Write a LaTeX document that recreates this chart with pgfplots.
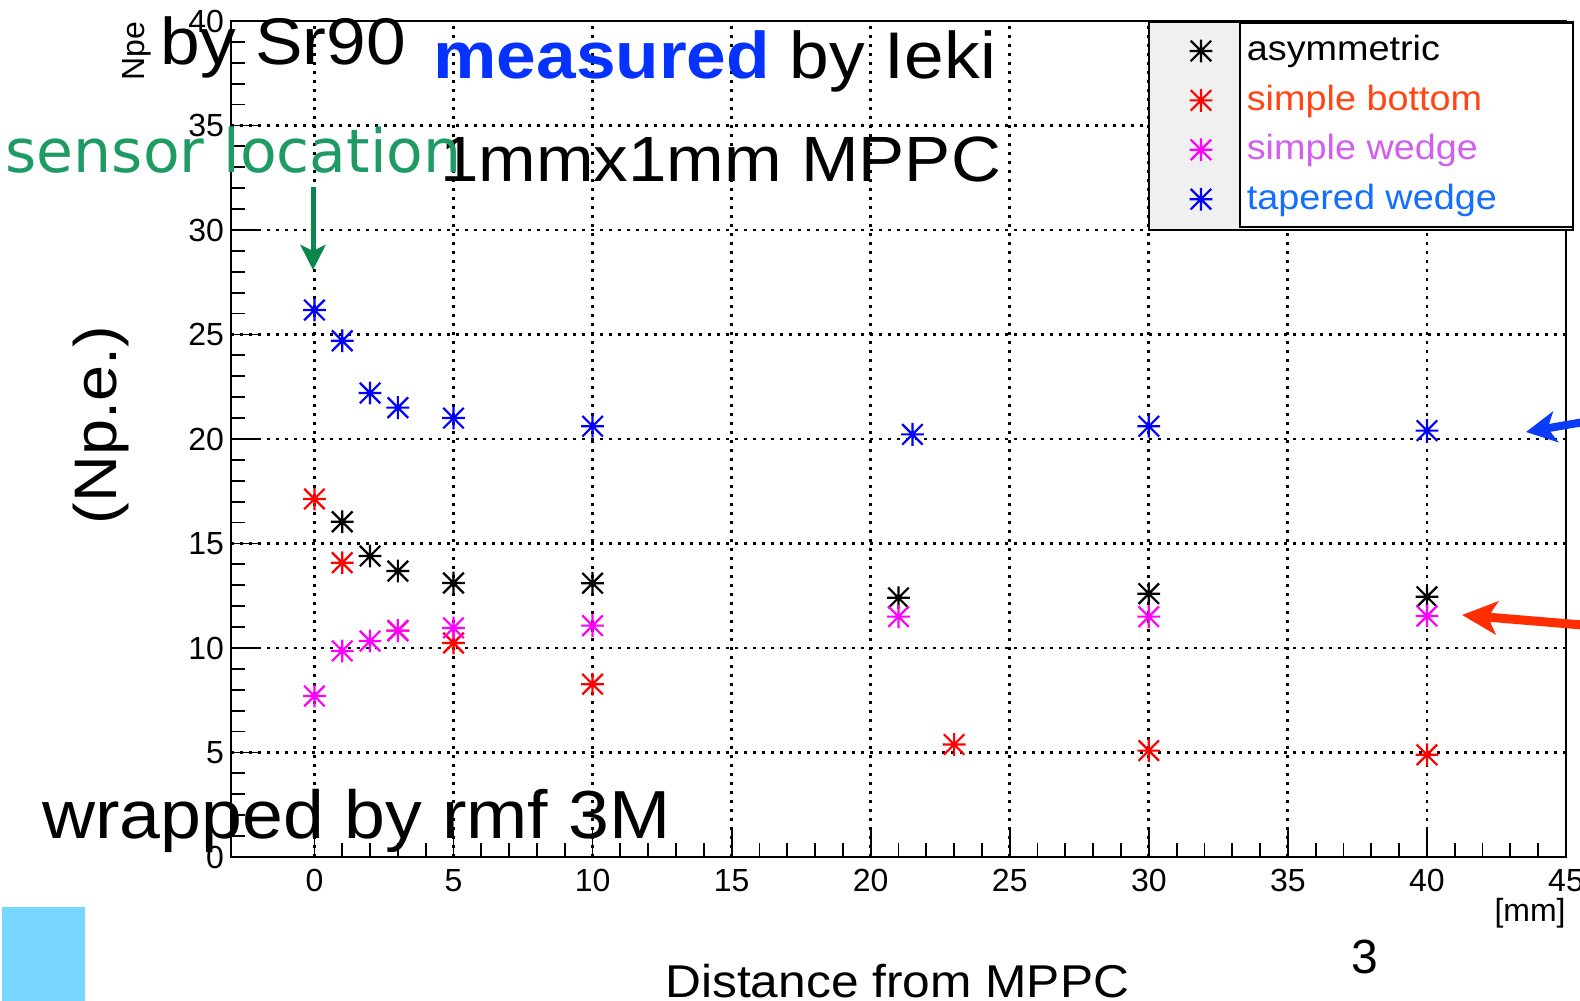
\documentclass[border=0pt]{standalone}
\usepackage{pgfplots}
\pgfplotsset{compat=1.18}
\usepackage{fontspec}
\usetikzlibrary{arrows.meta}
\setmainfont{Liberation Sans}
\newfontfamily\hira[FakeStretch=1.08]{Liberation Sans}
\newfontfamily\verd{DejaVu Sans}

\definecolor{sensgreen}{RGB}{30,155,100}
\definecolor{arrgreen}{RGB}{10,135,75}
\definecolor{measblue}{RGB}{5,50,255}
\definecolor{arrblue}{RGB}{10,60,245}
\definecolor{arrred}{RGB}{255,45,0}
\definecolor{legred}{RGB}{255,70,20}
\definecolor{legviolet}{RGB}{210,95,240}
\definecolor{legblue}{RGB}{20,110,255}
\definecolor{sqblue}{RGB}{120,214,255}
\definecolor{leggray}{RGB}{240,240,240}
\definecolor{mkred}{RGB}{255,0,0}
\definecolor{mkmag}{RGB}{255,0,255}
\definecolor{mkblue}{RGB}{0,0,255}

% ROOT style star: + and x together
\pgfdeclareplotmark{rootstar}{%
  \pgfpathmoveto{\pgfqpoint{-\pgfplotmarksize}{0pt}}\pgfpathlineto{\pgfqpoint{\pgfplotmarksize}{0pt}}%
  \pgfpathmoveto{\pgfqpoint{0pt}{-\pgfplotmarksize}}\pgfpathlineto{\pgfqpoint{0pt}{\pgfplotmarksize}}%
  \pgfpathmoveto{\pgfqpoint{-.9\pgfplotmarksize}{-.9\pgfplotmarksize}}\pgfpathlineto{\pgfqpoint{.9\pgfplotmarksize}{.9\pgfplotmarksize}}%
  \pgfpathmoveto{\pgfqpoint{-.9\pgfplotmarksize}{.9\pgfplotmarksize}}\pgfpathlineto{\pgfqpoint{.9\pgfplotmarksize}{-.9\pgfplotmarksize}}%
  \pgfusepathqstroke}

% legend key: a single mark
\pgfplotsset{legend image code/.code={\draw[#1] plot coordinates {(0pt,0.7pt)};}}

\begin{document}
\begin{tikzpicture}
\path[use as bounding box] (0,0) rectangle (790pt,500.5pt);
\clip (0,0) rectangle (790pt,500.5pt);

\begin{axis}[
    at={(115.5pt,72pt)}, anchor=south west,
    scale only axis, width=667.5pt, height=418pt,
    xmin=-3, xmax=45, ymin=0, ymax=40,
    xtick={0,5,...,45}, ytick={0,5,...,40},
    minor x tick num=4, minor y tick num=4,
    tick align=inside, xtick pos=bottom, ytick pos=left,
    major tick length=15pt, minor tick length=7pt,
    every tick/.style={black, line width=0.9pt},
    axis line style={line width=1.3pt},
    grid=major,
    major grid style={black, line width=1.4pt, dash pattern=on 1.4pt off 3.1pt},
    tick label style={font=\fontsize{16}{16}\selectfont},
    xticklabel style={yshift=-2.5pt},
    /pgf/number format/assume math mode=true,
    clip=false,
    legend cell align=left,
    legend style={at={(0.718,0.9822)}, anchor=north west, draw=none, fill=none,
        inner sep=0pt, outer sep=0pt, row sep=8.2pt, column sep=17.25pt,
        font=\hira\fontsize{17.5}{20}\selectfont,
        nodes={inner sep=0pt, text height=12.5pt, text depth=4pt}},
    mark size=5.7pt,
]
% legend panel
\filldraw[fill=leggray, draw=black, line width=0.8pt] (axis cs:30.0,30.0) rectangle (axis cs:45.25,39.95);
\filldraw[fill=white, draw=black, line width=1pt] (axis cs:33.28,30.14) rectangle (axis cs:45.25,39.9);

\addplot[only marks, mark=rootstar, black, mark options={line width=1.1pt}] coordinates {
    (1,16.04) (2,14.40) (3,13.68) (5,13.11) (10,13.1) (21,12.4) (30,12.6) (40,12.45)
};
\addlegendentry{asymmetric}
\addplot[only marks, mark=rootstar, mkred, mark options={line width=1.1pt}] coordinates {
    (0,17.13) (1,14.08) (3,10.83) (5,10.24) (10,8.27) (23,5.38) (30,5.09) (40,4.89)
};
\addlegendentry{\textcolor{legred}{simple bottom}}
\addplot[only marks, mark=rootstar, mkmag, mark options={line width=1.1pt}] coordinates {
    (0,7.70) (1,9.86) (2,10.33) (3,10.83) (5,10.96) (10,11.07) (21,11.5) (30,11.5) (40,11.53)
};
\addlegendentry{\textcolor{legviolet}{simple wedge}}
\addplot[only marks, mark=rootstar, mkblue, mark options={line width=1.1pt}] coordinates {
    (0,26.17) (1,24.70) (2,22.20) (3,21.50) (5,21.0) (10,20.61) (21.5,20.22) (30,20.61) (40,20.40)
};
\addlegendentry{\textcolor{legblue}{tapered wedge}}
\end{axis}

% slide annotations, placed in pixel units of the 1580x1001 slide
\begin{scope}[x=0.5pt, y=-0.5pt, shift={(0pt,500.5pt)}]
  \node[rotate=90, inner sep=0pt, font=\fontsize{16}{16}\selectfont] at (137,51) {Npe};
  \node[anchor=base west, inner sep=0pt, font=\hira\fontsize{33}{36}\selectfont] at (160,65) {by Sr90};
  \node[anchor=base west, inner sep=0pt, font=\hira\fontsize{33}{36}\selectfont] at (433,79)
      {\textcolor{measblue}{\bfseries measured} by Ieki};
  \node[anchor=base west, inner sep=0pt, font=\hira\fontsize{32}{36}\selectfont] at (440,182) {1mmx1mm MPPC};
  \node[anchor=base east, inner sep=0pt, text=sensgreen, font=\verd\fontsize{30}{34}\selectfont] at (462,173) {sensor location};
  \draw[arrgreen, line width=2.5pt, -{Stealth[length=12.5pt, width=12.5pt, inset=3pt]}] (313,187) -- (313,270);
  \node[anchor=base west, inner sep=0pt, font=\hira\fontsize{34}{36}\selectfont] at (42,839) {wrapped by rmf 3M};
  \node[rotate=90, inner sep=0pt, font=\hira\fontsize{30}{32}\selectfont] at (101,425) {(Np.e.)};
  \node[anchor=base west, inner sep=0pt, font=\hira\fontsize{23}{25}\selectfont] at (665,998) {Distance from MPPC};
  \node[inner sep=0pt, font=\fontsize{24}{26}\selectfont] at (1365,957) {3};
  \node[anchor=east, inner sep=0pt, font=\fontsize{16}{18}\selectfont] at (1566,913) {[mm]};
  \fill[sqblue] (2,907) rectangle (85,1001);
  \draw[arrblue, line width=4pt, -{Stealth[length=15pt, width=15.5pt, inset=4pt]}] (1630,414) -- (1526,432);
  \draw[arrred, line width=4.5pt, -{Stealth[length=17.5pt, width=16.5pt, inset=4.5pt]}] (1630,629) -- (1462,615);
\end{scope}
\end{tikzpicture}
\end{document}
